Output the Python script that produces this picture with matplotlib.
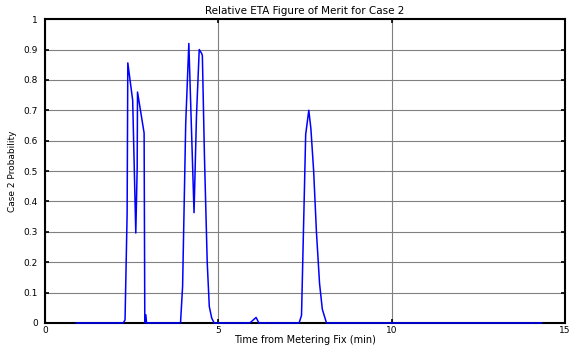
import matplotlib
matplotlib.use('Agg')
import matplotlib.pyplot as plt

plt.rcParams['font.family'] = ['DejaVu Sans']

# time from metering fix (min) and probability
t = [0.9, 2.26, 2.31, 2.37, 2.39, 2.53, 2.62, 2.66, 2.67, 2.86, 2.88, 2.91, 2.93,
     3.91, 3.97, 4.06, 4.15, 4.30, 4.37, 4.45, 4.52, 4.54, 4.60, 4.68, 4.74, 4.81, 4.88,
     5.91, 6.09, 6.17,
     7.33, 7.40, 7.52, 7.61, 7.67, 7.75, 7.83, 7.92, 8.00, 8.12,
     14.33]
p = [0.0, 0.0, 0.01, 0.36, 0.856, 0.733, 0.296, 0.51, 0.76, 0.625, 0.0, 0.027, 0.0,
     0.0, 0.12, 0.657, 0.92, 0.363, 0.68, 0.90, 0.887, 0.88, 0.55, 0.20, 0.054, 0.016, 0.0,
     0.0, 0.018, 0.0,
     0.0, 0.025, 0.62, 0.70, 0.64, 0.50, 0.30, 0.13, 0.045, 0.0,
     0.0]

xticks = [0, 5, 10, 15]
yticks = [0, 0.1, 0.2, 0.3, 0.4, 0.5, 0.6, 0.7, 0.8, 0.9, 1]
ytick_labels = ['0', '0.1', '0.2', '0.3', '0.4', '0.5', '0.6', '0.7', '0.8', '0.9', '1']

fig = plt.figure(figsize=(5.69, 3.48), dpi=100)
ax = fig.add_axes([0.079, 0.072, 0.914, 0.873])

ax.plot(t, p, color='#0000ff', linewidth=1.1, zorder=3, clip_on=False)

ax.set_xlim(0, 15)
ax.set_ylim(0, 1)
ax.set_xticks(xticks)
ax.set_yticks(yticks)
ax.set_yticklabels(ytick_labels)
ax.grid(True, color='#808080', linewidth=0.8, linestyle='-')
ax.tick_params(direction='in', length=3, width=1.2, labelsize=6.5,
               top=True, right=True)
ax.tick_params(axis='x', pad=2)
ax.tick_params(axis='y', pad=5)
for s in ax.spines.values():
    s.set_linewidth(1.5)

ax.set_title('Relative ETA Figure of Merit for Case 2', fontsize=7.5, pad=4)
ax.set_xlabel('Time from Metering Fix (min)', fontsize=7, labelpad=0)
ax.set_ylabel('Case 2 Probability', fontsize=6.5, labelpad=5)

fig.savefig('out.png', dpi=100)
